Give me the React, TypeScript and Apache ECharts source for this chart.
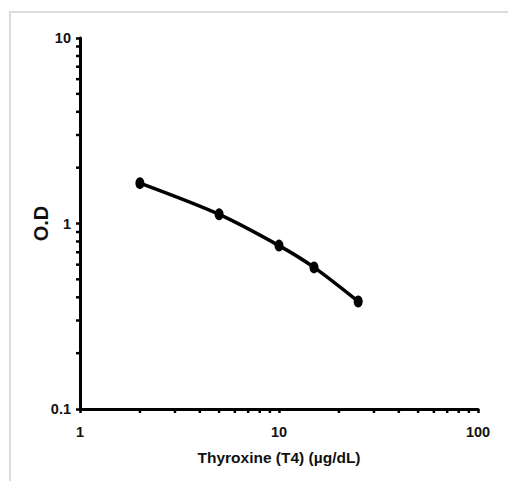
import React, { useEffect, useRef } from "react";
import * as echarts from "echarts";

const concentration = [2, 5, 10, 15, 25];
const opticalDensity = [1.65, 1.12, 0.76, 0.58, 0.38];
const xMinorTicks = [2, 3, 4, 5, 6, 7, 8, 9, 20, 30, 40, 50, 60, 70, 80, 90];
const yMinorTicks = [0.2, 0.3, 0.4, 0.5, 0.6, 0.7, 0.8, 0.9, 2, 3, 4, 5, 6, 7, 8, 9];
const xTitle = "Thyroxine (T4) (µg/dL)";
const yTitle = "O.D";

const font = '"Liberation Sans", Arial, sans-serif';

export default function App() {
  const ref = useRef<HTMLDivElement>(null);
  useEffect(() => {
    if (!ref.current) return;
    const chart = echarts.init(ref.current, null, { renderer: "svg" });
    chart.setOption({
      animation: false,
      backgroundColor: "#ffffff",
      graphic: [
        {
          type: "rect",
          shape: { x: 10, y: 12, width: 700, height: 700 },
          style: { fill: "none", stroke: "#dcdcdc", lineWidth: 2 },
          silent: true,
        },
      ],
      grid: { left: 80, right: 30, top: 38, bottom: 72 },
      xAxis: {
        type: "log",
        logBase: 10,
        min: 1,
        max: 100,
        name: xTitle,
        nameLocation: "middle",
        nameGap: 40,
        nameMoveOverlap: false,
        nameTextStyle: { fontFamily: font, fontWeight: "bold", fontSize: 15.5, color: "#111" },
        axisLine: { show: true, lineStyle: { color: "#000", width: 3 } },
        axisTick: { show: true, length: 4, lineStyle: { color: "#000", width: 2.5 } },
        minorTick: { show: false },
        splitLine: { show: false },
        axisLabel: { margin: 15, fontFamily: font, fontWeight: "bold", fontSize: 14.5, color: "#111" },
      },
      yAxis: {
        type: "log",
        logBase: 10,
        min: 0.1,
        max: 10,
        name: yTitle,
        nameLocation: "middle",
        nameGap: 29,
        nameMoveOverlap: false,
        nameRotate: 90,
        nameTextStyle: { fontFamily: font, fontWeight: "bold", fontSize: 20, color: "#111" },
        axisLine: { show: true, lineStyle: { color: "#000", width: 3 } },
        axisTick: { show: true, length: 4, lineStyle: { color: "#000", width: 2.5 } },
        splitLine: { show: false },
        axisLabel: {
          margin: 9,
          fontFamily: font,
          fontWeight: "bold",
          fontSize: 14.5,
          color: "#111",
          formatter: (v: number) => (v < 1 ? String(Number(v.toFixed(1))) : String(Math.round(v))),
        },
      },
      series: [
        {
          type: "custom",
          clip: false,
          silent: true,
          data: xMinorTicks.map((v) => [v, 0.1]),
          renderItem: (params: any, api: any) => {
            const p = api.coord([api.value(0), api.value(1)]);
            return {
              type: "line",
              shape: { x1: p[0], y1: p[1], x2: p[0], y2: p[1] + 4 },
              style: { stroke: "#000", lineWidth: 2.5 },
            };
          },
          z: 1,
        },
        {
          type: "custom",
          clip: false,
          silent: true,
          data: yMinorTicks.map((v) => [1, v]),
          renderItem: (params: any, api: any) => {
            const p = api.coord([api.value(0), api.value(1)]);
            return {
              type: "line",
              shape: { x1: p[0], y1: p[1], x2: p[0] - 4, y2: p[1] },
              style: { stroke: "#000", lineWidth: 2.5 },
            };
          },
          z: 1,
        },
        {
          type: "line",
          data: concentration.map((x, i) => [x, opticalDensity[i]]),
          smooth: 0.3,
          symbol: "circle",
          symbolSize: [9, 12],
          showSymbol: true,
          lineStyle: { color: "#000", width: 3.5 },
          itemStyle: { color: "#000" },
          z: 3,
        },
      ],
    });
    return () => chart.dispose();
  }, []);
  return (
    <div
      ref={ref}
      style={{ position: "fixed", left: 0, top: 0, width: 508, height: 481 }}
    />
  );
}
